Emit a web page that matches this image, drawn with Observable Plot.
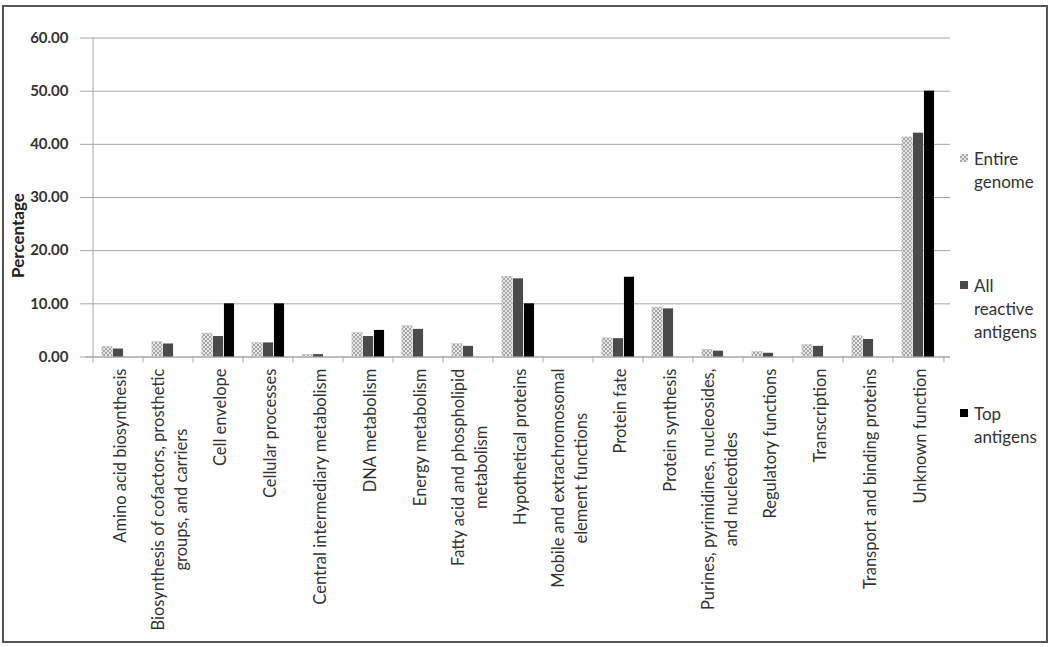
<!DOCTYPE html>
<html><head><meta charset="utf-8">
<script src="https://cdn.jsdelivr.net/npm/d3@7"></script>
<script src="https://cdn.jsdelivr.net/npm/@observablehq/plot@0.6"></script>
<style>
body{margin:0;background:#fff;}
#wrap{position:relative;width:1050px;height:647px;font-family:Lato,"Open Sans",sans-serif;background:#fff;}
#border{position:absolute;left:2px;top:5px;width:1042px;height:634px;border:2px solid #555;pointer-events:none;}
.leg{position:absolute;left:960px;font-size:17px;color:#333;line-height:23px;display:flex;align-items:flex-start;}
.sw{width:8px;height:8px;margin-top:7.5px;margin-right:6px;flex:none;}
</style></head>
<body>
<div id="wrap"><div id="chart"></div><div id="legend"></div><div id="border"></div></div>
<script>
const categories = ["Amino acid biosynthesis","Biosynthesis of cofactors, prosthetic groups, and carriers","Cell envelope","Cellular processes","Central intermediary metabolism","DNA metabolism","Energy metabolism","Fatty acid and phospholipid metabolism","Hypothetical proteins","Mobile and extrachromosomal element functions","Protein fate","Protein synthesis","Purines, pyrimidines, nucleosides, and nucleotides","Regulatory functions","Transcription","Transport and binding proteins","Unknown function"];
const tickLabels = ["Amino acid biosynthesis","Biosynthesis of cofactors, prosthetic\ngroups, and carriers","Cell envelope","Cellular processes","Central intermediary metabolism","DNA metabolism","Energy metabolism","Fatty acid and phospholipid\nmetabolism","Hypothetical proteins","Mobile and extrachromosomal\nelement functions","Protein fate","Protein synthesis","Purines, pyrimidines, nucleosides,\nand nucleotides","Regulatory functions","Transcription","Transport and binding proteins","Unknown function"];
const seriesNames = ["Entire genome","All reactive antigens","Top antigens"];
const legendLabels = ["Entire\ngenome","All\nreactive\nantigens","Top\nantigens"];
const entireGenome = [1.9,2.8,4.4,2.6,0.4,4.5,5.8,2.4,15.1,0,3.5,9.3,1.35,0.95,2.25,3.9,41.3];
const allReactive  = [1.5,2.45,3.85,2.65,0.45,3.85,5.2,2.0,14.7,0,3.45,9.05,1.1,0.7,2.0,3.3,42.1];
const topAntigens  = [0,0,10,10,0,5,0,0,10,0,15,0,0,0,0,0,50];
const yTicks = [0,10,20,30,40,50,60];

const W = 1050, H = 647, mL = 85, mR = 100, mT = 37.5, mB = 290.5;
const bw = (W - mL - mR) / categories.length;
const barW = 11;
const inset = (bw - barW) / 2;
const fills = ["url(#chk)", "#4a4a4a", "#000"];

const rows = categories.map((c, i) => ({category: c, label: tickLabels[i], v0: entireGenome[i], v1: allReactive[i], v2: topAntigens[i]}));

const labFont = 16.5;
const ctx = document.createElement("canvas").getContext("2d");
ctx.font = `${labFont}px Lato`;
const maxW = s => Math.max(...s.split("\n").map(l => ctx.measureText(l).width));

const marks = [
  Plot.gridY(yTicks, {stroke: "#a6a6a6", strokeOpacity: 1, insetLeft: -5}),
  Plot.axisY(yTicks, {tickSize: 0, tickPadding: 17, tickFormat: d => d.toFixed(2), fontSize: 15, fontWeight: "bold", fill: "#333", label: null}),
  Plot.ruleX([categories[0]], {dx: -bw/2, y1: 0, y2: 60, stroke: "#a6a6a6"}),
  Plot.axisX(categories, {tickSize: 6, dx: -bw/2, tickFormat: () => "", stroke: "#a6a6a6", label: null}),
  Plot.axisX([categories[categories.length-1]], {tickSize: 6, dx: bw/2, tickFormat: () => "", stroke: "#a6a6a6", label: null}),
  Plot.ruleY([0], {stroke: "#a6a6a6"}),
  ...[0,1,2].map(k => Plot.barY(rows.filter(r => r["v"+k] > 0), {x: "category", y: "v"+k, fill: fills[k], stroke: k === 0 ? "#bdbdbd" : null, strokeWidth: 0.5, insetLeft: inset, insetRight: inset, dx: (k-1)*barW})),
  ...rows.map(r => Plot.text([r], {x: "category", text: "label", frameAnchor: "bottom", rotate: -90, textAnchor: "middle", lineAnchor: "middle", lineHeight: 1.38, dy: 11.5 + maxW(r.label)/2, fontSize: labFont, fill: "#333"})),
  Plot.text(["Percentage"], {frameAnchor: "left", rotate: -90, textAnchor: "middle", dx: -67, dy: 38, fontWeight: "bold", fontSize: 17, fill: "#222"})
];

const chart = Plot.plot({
  width: W, height: H,
  marginLeft: mL, marginRight: mR, marginTop: mT, marginBottom: mB,
  style: {fontFamily: "Lato, 'Open Sans', sans-serif", background: "transparent", overflow: "visible"},
  x: {type: "band", domain: categories, padding: 0, label: null},
  y: {domain: [0, 60], label: null},
  marks
});
d3.select(chart).insert("defs", ":first-child").html(
  `<pattern id="chk" width="4" height="4" patternUnits="userSpaceOnUse">
     <rect width="4" height="4" fill="#e6e6e6"/>
     <rect width="2" height="2" fill="#a8a8a8"/>
     <rect x="2" y="2" width="2" height="2" fill="#a8a8a8"/>
   </pattern>`);
document.getElementById("chart").appendChild(chart);

const legTops = [146.5, 273.5, 401.5];
const leg = document.getElementById("legend");
legendLabels.forEach((t, k) => {
  const d = document.createElement("div");
  d.className = "leg";
  d.style.top = legTops[k] + "px";
  const sw = document.createElement("div");
  sw.className = "sw";
  if (k === 0) sw.style.background = "repeating-conic-gradient(#a8a8a8 0 25%, #e6e6e6 0 50%) 0 0/4px 4px";
  else sw.style.background = fills[k];
  const tx = document.createElement("div");
  tx.innerHTML = t.split("\n").join("<br>");
  d.appendChild(sw); d.appendChild(tx);
  leg.appendChild(d);
});
</script>
</body></html>
